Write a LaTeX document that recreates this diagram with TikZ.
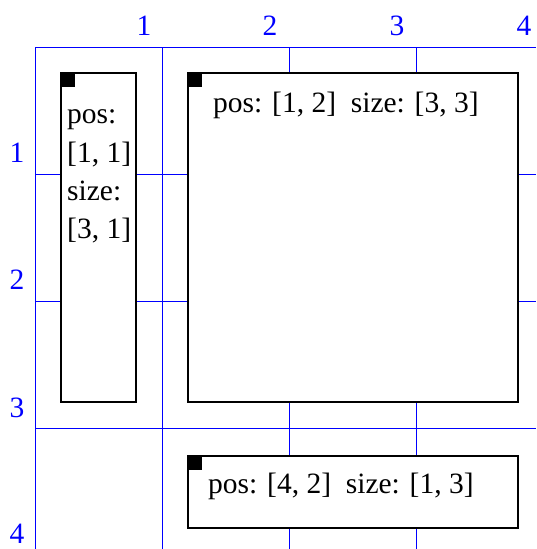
\documentclass[tikz,border=0pt]{standalone}
\usepackage{fontspec}
\setmainfont{Liberation Serif}
\begin{document}
\begin{tikzpicture}[x=1pt,y=-1pt,
  gridline/.style={blue,line width=1pt},
  lbl/.style={blue,font=\fontsize{29.5}{35}\selectfont,inner sep=0pt,anchor=base},
  box/.style={draw=black,fill=white,line width=2.2pt,inner sep=0pt,outer sep=0pt,anchor=north west},
  corner/.style={fill=black,minimum size=14pt,inner sep=0pt,outer sep=0pt,anchor=north west},
  txt/.style={font=\fontsize{29.5}{38.5}\selectfont,inner sep=0pt,anchor=base west}]
\useasboundingbox (0,0) rectangle (536,549);
% grid
\foreach \x in {35,162.3,289.6,416.9}
  \draw[gridline] (\x,47) -- (\x,549);
\foreach \y in {47,174.3,301.6,428.9}
  \draw[gridline] (35,\y) -- (536,\y);
% column labels
\node[lbl] (c1) at (144,35) {1};
\node[lbl] (c2) at (270,35) {2};
\node[lbl] (c3) at (397,35) {3};
\node[lbl] (c4) at (524,35) {4};
% row labels
\node[lbl] (r1) at (17,162) {1};
\node[lbl] (r2) at (17,289) {2};
\node[lbl] (r3) at (17,417) {3};
\node[lbl] (r4) at (17,543) {4};
% boxes
\node[box,minimum width=75pt,minimum height=329pt] (b1) at (61,73) {};
\node[corner] (k1) at (b1.north west) {};
\node[box,minimum width=330pt,minimum height=329pt] (b2) at (188,73) {};
\node[corner] (k2) at (b2.north west) {};
\node[box,minimum width=330pt,minimum height=72pt] (b3) at (188,456) {};
\node[corner] (k3) at (b3.north west) {};
% texts
\node[txt] (t1a) at (67,123) {pos:};
\node[txt] (t1b) at (67,162) {[1, 1]};
\node[txt] (t1c) at (67,200) {size:};
\node[txt] (t1d) at (67,238) {[3, 1]};
\node[txt] (t2) at (213,112) {pos: [1, 2]\ \ size: [3, 3]};
\node[txt] (t3) at (208,493) {pos: [4, 2]\ \ size: [1, 3]};
\end{tikzpicture}
\end{document}
